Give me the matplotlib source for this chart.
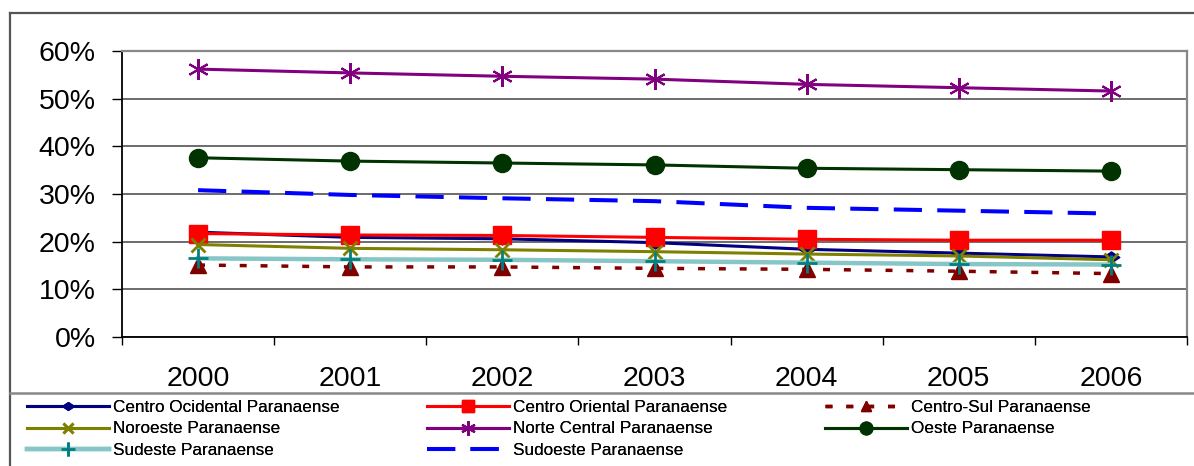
import matplotlib
matplotlib.use("Agg")
import matplotlib.pyplot as plt
from matplotlib.lines import Line2D
from matplotlib.path import Path
from matplotlib.ticker import FixedLocator, PercentFormatter, NullFormatter

plt.rcParams['font.family'] = ['Liberation Sans', 'DejaVu Sans']

years = ['2000', '2001', '2002', '2003', '2004', '2005', '2006']

centro_ocidental = [22.0, 20.9, 20.6, 19.8, 18.4, 17.6, 16.8]
centro_oriental = [21.7, 21.4, 21.3, 20.9, 20.5, 20.3, 20.3]
centro_sul = [15.1, 14.7, 14.7, 14.4, 14.2, 13.8, 13.3]
noroeste = [19.4, 18.6, 18.3, 17.9, 17.4, 17.0, 16.2]
norte_central = [56.2, 55.4, 54.7, 54.1, 53.0, 52.3, 51.6]
oeste = [37.6, 36.9, 36.5, 36.1, 35.4, 35.1, 34.8]
sudeste = [16.5, 16.3, 16.2, 15.9, 15.6, 15.3, 15.2]
sudoeste = [30.8, 29.8, 29.1, 28.5, 27.1, 26.5, 25.9]

W, H = 1194, 466
fig = plt.figure(figsize=(W / 100, H / 100), dpi=100)

# plot area in pixel units of the canvas
left, right, top, bottom = 122, 1187, 51, 337
ax = fig.add_axes([left / W, 1 - bottom / H, (right - left) / W, (bottom - top) / H])

x = list(range(len(years)))

wide_diamond = Path([(-1.5, 0), (0, 1), (1.5, 0), (0, -1), (-1.5, 0)],
                    [Path.MOVETO, Path.LINETO, Path.LINETO, Path.LINETO, Path.CLOSEPOLY])

h_co, = ax.plot(x, centro_ocidental, color='#000080', lw=2.2, marker=wide_diamond,
                ms=12, label='Centro Ocidental Paranaense')
h_cor, = ax.plot(x, centro_oriental, color='#FF0000', lw=2.2, marker='s', ms=13,
                 label='Centro Oriental Paranaense')
h_cs, = ax.plot(x, centro_sul, color='#800000', lw=2.5, dashes=(2, 4), marker='^', ms=11,
                label='Centro-Sul Paranaense')
h_no, = ax.plot(x, noroeste, color='#808000', lw=2.2, marker='x', ms=10, mew=2,
                label='Noroeste Paranaense')
h_nc, = ax.plot(x, norte_central, color='#800080', lw=2.2, marker=(6, 2, 0), ms=15, mew=1.5,
                label='Norte Central Paranaense')
h_oe, = ax.plot(x, oeste, color='#003300', lw=2.2, marker='o', ms=13,
                label='Oeste Paranaense')
h_se, = ax.plot(x, sudeste, color='#86C6C6', lw=3.2, marker='+', ms=15, mew=2,
                mec='#008080', label='Sudeste Paranaense')
h_so, = ax.plot(x, sudoeste, color='#0000FF', lw=2.9, dashes=(7, 3.8),
                label='Sudoeste Paranaense')

ax.set_xlim(-0.5, len(years) - 0.5)
ax.set_ylim(0, 60)

# y axis
ax.yaxis.set_major_locator(FixedLocator([0, 10, 20, 30, 40, 50, 60]))
ax.yaxis.set_major_formatter(PercentFormatter(decimals=0))
ax.tick_params(axis='y', direction='out', length=7, width=1, pad=12, labelsize=20.5)
ax.grid(axis='y', color='#444444', lw=1.1)
ax.set_axisbelow(True)

# x axis: ticks on category boundaries, labels at category centres
ax.xaxis.set_major_locator(FixedLocator([i - 0.5 for i in range(len(years) + 1)]))
ax.xaxis.set_major_formatter(NullFormatter())
ax.xaxis.set_minor_locator(FixedLocator(x))
ax.set_xticklabels(years, minor=True)
ax.tick_params(axis='x', which='major', direction='out', length=6, width=1)
ax.tick_params(axis='x', which='minor', length=0, pad=21, labelsize=20.5)

for side in ('left', 'bottom'):
    ax.spines[side].set_color('black')
    ax.spines[side].set_linewidth(1.3)
for side in ('top', 'right'):
    ax.spines[side].set_color('#888888')
    ax.spines[side].set_linewidth(1.6)

# outer chart frame and legend separator
frame_kw = dict(transform=fig.transFigure, color='#555555', lw=1.6)
fig.add_artist(Line2D([10 / W, 10 / W], [1 - 13 / H, 0], **frame_kw))
fig.add_artist(Line2D([10 / W, 1], [1 - 13 / H, 1 - 13 / H], **frame_kw))
fig.add_artist(Line2D([10 / W, 1], [1 - 393 / H, 1 - 393 / H],
                      transform=fig.transFigure, color='#888888', lw=1.8))

# legend laid out as three equal-width columns, filled row by row
columns = [([h_co, h_no, h_se], 27), ([h_cor, h_nc, h_so], 427), ([h_cs, h_oe], 825)]
for col_handles, col_x in columns:
    leg = fig.legend(handles=col_handles, labels=[h.get_label() for h in col_handles],
                     loc='upper left', bbox_to_anchor=(col_x / W, 1 - 400 / H),
                     frameon=False, fontsize=12.3, handlelength=4.8, handletextpad=0.25,
                     labelspacing=0.38, borderpad=0.0, borderaxespad=0.0,
                     markerscale=0.7)
    fig.add_artist(leg)

fig.savefig('out.png', dpi=100)
